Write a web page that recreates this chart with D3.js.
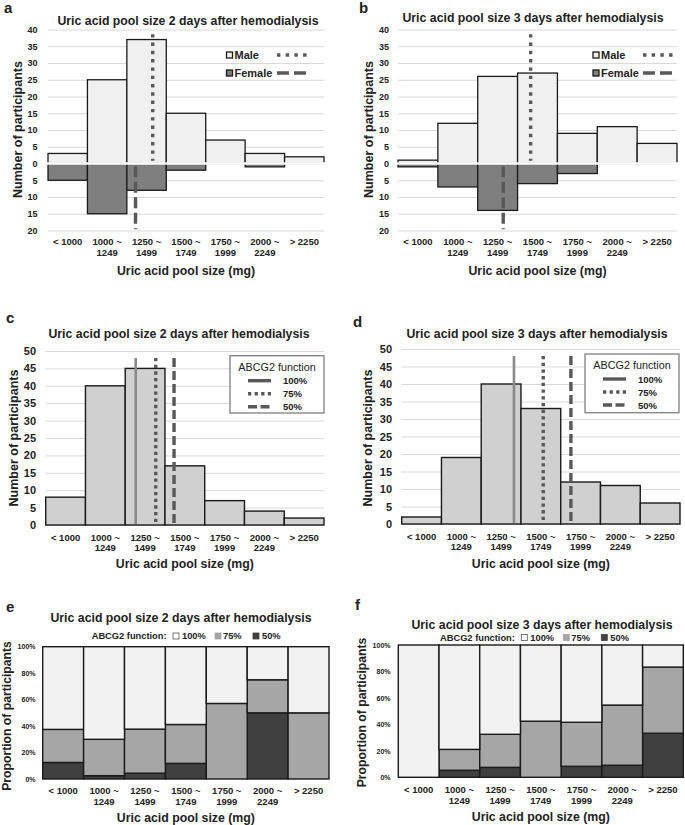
<!DOCTYPE html>
<html><head><meta charset="utf-8">
<script src="https://cdn.jsdelivr.net/npm/d3@7/dist/d3.min.js"></script>
<style>body{margin:0;background:#fff;} svg text{font-family:"Liberation Sans",Arial,sans-serif;}</style>
</head><body><svg id="chart" width="685" height="825"></svg>
<script>
// ---------------- DATA ----------------
const categories = [["< 1000"],["1000 ~","1249"],["1250 ~","1499"],["1500 ~","1749"],["1750 ~","1999"],["2000 ~","2249"],["> 2250"]];
const binEdgesMg = [750, 2500];               // range the bins span (for marker lines)
const maleDay2   = [3, 25, 37, 15, 7, 3, 2];
const femaleDay2 = [5, 15, 8, 2, 0, 1, 0];
const maleDay3   = [1, 12, 26, 27, 9, 11, 6];
const femaleDay3 = [1, 7, 14, 6, 3, 0, 0];
const sexLabels = ["Male", "Female"];
const sexMarkersDay2 = [1414, 1305];          // mg : male, female
const sexMarkersDay3 = [1582, 1410];
const totalDay2 = [8, 40, 45, 17, 7, 4, 2];
const totalDay3 = [2, 19, 40, 33, 12, 11, 6];
const abcgLevels = ["100%", "75%", "50%"];
const abcgMarkersDay2 = [1316, 1442, 1557];   // mg : 100%, 75%, 50%
const abcgMarkersDay3 = [1456, 1640, 1814];
const prop50Day2  = [12.5, 2.5, 4.4, 11.8, 0, 50, 0];
const prop75Day2  = [25, 27.5, 33.3, 29.4, 57.1, 25, 50];
const prop100Day2 = [62.5, 70, 62.3, 58.8, 42.9, 25, 50];
const prop50Day3  = [0, 5.3, 7.5, 0, 8.3, 9.1, 33.3];
const prop75Day3  = [0, 15.8, 25, 42.4, 33.3, 45.5, 50];
const prop100Day3 = [100, 78.9, 67.5, 57.6, 58.4, 45.4, 16.7];
const yTicksSex = [-20, -15, -10, -5, 0, 5, 10, 15, 20, 25, 30, 35, 40];
const yTicksCount = [0, 5, 10, 15, 20, 25, 30, 35, 40, 45, 50];
const yTicksPct = [0, 20, 40, 60, 80, 100];
const titleDay2 = "Uric acid pool size 2 days after hemodialysis";
const titleDay3 = "Uric acid pool size 3 days after hemodialysis";
const xTitle = "Uric acid pool size (mg)";

// ---------------- HELPERS ----------------
const svg = d3.select("#chart");
const INK = "#1a1a1a", TXT = "#222";
const C_MALE = "#f0f0f0", C_FEMALE = "#7f7f7f", C_TOTAL = "#d0d0d0";
const C_100 = "#f2f2f2", C_75 = "#a6a6a6", C_50 = "#404040";
const C_LINE = "#595959", C_SOLID = "#8a8a8a", GRID = "#d9d9d9";

function text(g, x, y, s, o = {}) {
  return g.append("text").attr("x", x).attr("y", y)
    .attr("text-anchor", o.anchor || "middle")
    .attr("font-size", o.size || 12)
    .attr("font-weight", o.weight || "bold")
    .attr("fill", o.fill || TXT)
    .attr("transform", o.rotate ? `rotate(-90,${x},${y})` : null)
    .text(s);
}

function xAxis(g, x, yBase, size, lineH) {
  const ax = g.append("g").attr("transform", `translate(0,${yBase})`)
    .call(d3.axisBottom(x).tickSize(0).tickPadding(0).tickFormat(i => categories[i][0]));
  ax.select(".domain").remove();
  ax.selectAll("text").each(function(i) {
    const t = d3.select(this).attr("font-size", size).attr("font-weight", "bold")
      .attr("fill", TXT).attr("font-family", '"Liberation Sans",Arial,sans-serif').attr("dy", 0).attr("y", 0);
    t.text(null);
    categories[i].forEach((s, j) => t.append("tspan").attr("x", 0).attr("dy", j === 0 ? 0 : lineH).text(s));
  });
}

function yAxis(g, y, L, R, ticks, labelRight, size, fmt, grid) {
  const ax = g.append("g").attr("transform", `translate(${L},0)`)
    .call(d3.axisLeft(y).tickValues(ticks).tickSize(grid ? -(R - L) : 0)
      .tickPadding(L - labelRight).tickFormat(fmt));
  ax.select(".domain").remove();
  ax.selectAll("line").attr("stroke", GRID).attr("stroke-width", 1);
  ax.selectAll("text").attr("font-size", size).attr("font-weight", "bold").attr("fill", TXT)
    .attr("font-family", '"Liberation Sans",Arial,sans-serif');
}

const dotted = { w: 3.4, dash: "3.4,4.9" };
const dashed = { w: 3.4, dash: "11,4.5" };

// ---------------- SEX PANELS (a, b) ----------------
function sexPanel(c) {
  const g = svg.append("g");
  const x = d3.scaleBand().domain(d3.range(categories.length)).range([c.L, c.R]).padding(0);
  const xm = d3.scaleLinear().domain(binEdgesMg).range([c.L, c.R]);
  const y = d3.scaleLinear().domain([-20, 40]).range([230.5, 29.5]);
  yAxis(g, y, c.L, c.R, yTicksSex, c.labelRight, 9, d => Math.abs(d), true);
  g.selectAll(".m").data(c.male).join("rect")
    .attr("x", (d, i) => x(i)).attr("width", x.bandwidth())
    .attr("y", d => y(d)).attr("height", d => y(0) - y(d))
    .attr("fill", C_MALE).attr("stroke", INK).attr("stroke-width", 1.3);
  g.selectAll(".f").data(c.female).join("rect")
    .attr("x", (d, i) => x(i)).attr("width", x.bandwidth())
    .attr("y", y(0)).attr("height", d => y(-d) - y(0))
    .attr("display", d => d > 0 ? null : "none")
    .attr("fill", C_FEMALE).attr("stroke", INK).attr("stroke-width", 1.3);
  g.append("line").attr("x1", c.L - 4).attr("x2", c.R + 2).attr("y1", y(0)).attr("y2", y(0))
    .attr("stroke", "#fff").attr("stroke-width", 2.6);
  // marker lines
  g.append("line").attr("x1", xm(c.markers[0])).attr("x2", xm(c.markers[0]))
    .attr("y1", y(38.6)).attr("y2", y(0.8))
    .attr("stroke", C_LINE).attr("stroke-width", dotted.w).attr("stroke-dasharray", dotted.dash);
  g.append("line").attr("x1", xm(c.markers[1])).attr("x2", xm(c.markers[1]))
    .attr("y1", y(-0.8)).attr("y2", y(-19.6))
    .attr("stroke", C_LINE).attr("stroke-width", dashed.w).attr("stroke-dasharray", dashed.dash);
  // legend
  const lg = [{ fill: C_MALE, st: dotted, yy: 55 }, { fill: C_FEMALE, st: dashed, yy: 73 }];
  lg.forEach((d, i) => {
    g.append("rect").attr("x", c.legX).attr("y", d.yy - 3).attr("width", 6).attr("height", 6)
      .attr("fill", d.fill).attr("stroke", INK).attr("stroke-width", 1.3);
    text(g, c.legX + 8, d.yy + 4, sexLabels[i], { anchor: "start", size: 11 });
    g.append("line").attr("x1", c.sampX).attr("x2", c.sampX + 33).attr("y1", d.yy).attr("y2", d.yy)
      .attr("stroke", C_LINE).attr("stroke-width", d.st.w).attr("stroke-dasharray", i === 0 ? "3.4,5.3" : "12,5");
  });
  xAxis(g, x, 244.5, 9.5, 11.5);
  text(g, (c.L + c.R) / 2, 274.5, xTitle, { size: 12.3 });
  text(g, c.yTitleX, 129.5, "Number of participants", { size: 12.5, rotate: true });
  text(g, c.titleX, c.titleY, c.title, { size: 12.3 });
  text(g, c.letterX, 13, c.letter, { anchor: "start", size: 15 });
}

sexPanel({ L: 48, R: 324, labelRight: 37.5, male: maleDay2, female: femaleDay2, markers: sexMarkersDay2,
  legX: 226.5, sampX: 277, yTitleX: 21.5, titleX: 188, titleY: 24.5, title: titleDay2, letter: "a", letterX: 4 });
sexPanel({ L: 398, R: 677, labelRight: 389, male: maleDay3, female: femaleDay3, markers: sexMarkersDay3,
  legX: 593, sampX: 643, yTitleX: 372.5, titleX: 533, titleY: 21.5, title: titleDay3, letter: "b", letterX: 359 });

// ---------------- ABCG2 COUNT PANELS (c, d) ----------------
function countPanel(c) {
  const g = svg.append("g");
  const x = d3.scaleBand().domain(d3.range(categories.length)).range([c.L, c.R]).padding(0);
  const xm = d3.scaleLinear().domain(binEdgesMg).range([c.L, c.R]);
  const y = d3.scaleLinear().domain([0, 50]).range([c.y0, c.y50]);
  yAxis(g, y, c.L, c.R, yTicksCount, c.labelRight, 11, d => d, true);
  g.selectAll(".b").data(c.total).join("rect")
    .attr("x", (d, i) => x(i)).attr("width", x.bandwidth())
    .attr("y", d => y(d)).attr("height", d => y(0) - y(d))
    .attr("fill", C_TOTAL).attr("stroke", INK).attr("stroke-width", 1.4);
  const styles = [{ col: C_SOLID, w: 2.6, dash: null }, { col: C_LINE, w: 3.4, dash: "3.3,3.4" }, { col: C_LINE, w: 3.4, dash: "9,4" }];
  c.markers.forEach((m, i) => {
    g.append("line").attr("x1", xm(m)).attr("x2", xm(m)).attr("y1", y(48)).attr("y2", y(0) - 1)
      .attr("stroke", styles[i].col).attr("stroke-width", styles[i].w).attr("stroke-dasharray", styles[i].dash);
  });
  // legend box
  const b = c.box;
  g.append("rect").attr("x", b[0]).attr("y", b[1]).attr("width", b[2]).attr("height", b[3])
    .attr("fill", "#fff").attr("stroke", "#808080").attr("stroke-width", 1.3);
  text(g, b[0] + b[2] / 2, b[1] + 15, "ABCG2 function", { size: 10.8, weight: "normal" });
  const sampleDash = [null, "3.3,3.3", "9,3.5"];
  abcgLevels.forEach((s, i) => {
    const yy = b[1] + 25 + i * 13;
    g.append("line").attr("x1", b[0] + 18).attr("x2", b[0] + 41).attr("y1", yy).attr("y2", yy)
      .attr("stroke", C_LINE).attr("stroke-width", 3.4).attr("stroke-dasharray", sampleDash[i]);
    text(g, b[0] + 53, yy + 3.5, s, { anchor: "start", size: 9.5 });
  });
  xAxis(g, x, c.y0 + 15.5, 9.5, 10.5);
  text(g, (c.L + c.R) / 2, 568, xTitle, { size: 12.3 });
  text(g, c.yTitleX, 438, "Number of participants", { size: 12.5, rotate: true });
  text(g, c.titleX, 337.5, c.title, { size: 12.3 });
  text(g, c.letterX, c.letterY, c.letter, { anchor: "start", size: 15 });
}

countPanel({ L: 45.7, R: 324, y0: 525, y50: 351, labelRight: 36, total: totalDay2, markers: abcgMarkersDay2,
  box: [230, 355.7, 94, 57.3], yTitleX: 17.5, titleX: 179, title: titleDay2, letter: "c", letterX: 6, letterY: 323 });
countPanel({ L: 401.7, R: 680, y0: 524, y50: 349, labelRight: 392, total: totalDay3, markers: abcgMarkersDay3,
  box: [585, 354, 94, 58.7], yTitleX: 371.5, titleX: 537, title: titleDay3, letter: "d", letterX: 353, letterY: 327 });

// ---------------- PROPORTION PANELS (e, f) ----------------
function propPanel(c) {
  const g = svg.append("g");
  const x = d3.scaleBand().domain(d3.range(categories.length)).range([c.L, c.R]).padding(0);
  const y = d3.scaleLinear().domain([0, 100]).range([c.y0, c.y100]);
  yAxis(g, y, c.L, c.R, yTicksPct, c.labelRight, 7, d => d + "%", false);
  const rows = categories.map((_, i) => ({ i, p50: c.p50[i], p75: c.p75[i], p100: c.p100[i] }));
  const stack = d3.stack().keys(["p50", "p75", "p100"])(rows);
  const fills = [C_50, C_75, C_100];
  stack.forEach((layer, k) => {
    g.selectAll(null).data(layer).join("rect")
      .attr("x", d => x(d.data.i)).attr("width", x.bandwidth())
      .attr("y", d => y(d[1])).attr("height", d => y(d[0]) - y(d[1]))
      .attr("display", d => d[1] - d[0] > 0 ? null : "none")
      .attr("fill", fills[k]).attr("stroke", INK).attr("stroke-width", 1.4);
  });
  // legend
  const lx = c.legX, ly = c.legY;
  text(g, lx, ly + 3.3, "ABCG2 function:", { anchor: "start", size: 9.3 });
  const items = [{ f: "#fff", s: "#555", dx: 81.3, tx: 90.3 }, { f: C_75, s: C_75, dx: 123.3, tx: 131.3 }, { f: C_50, s: C_50, dx: 161.3, tx: 170.3 }];
  items.forEach((it, i) => {
    g.append("rect").attr("x", lx + it.dx).attr("y", ly - 3).attr("width", 6).attr("height", 6)
      .attr("fill", it.f).attr("stroke", it.s).attr("stroke-width", 0.8);
    text(g, lx + it.tx, ly + 3.3, abcgLevels[i], { anchor: "start", size: 9.3 });
  });
  xAxis(g, x, c.xLabY, 9.5, 11);
  text(g, (c.L + c.R) / 2, c.xTitleY, xTitle, { size: 12.3 });
  text(g, c.yTitleX, c.yTitleY, "Proportion of participants", { size: 12.2, rotate: true });
  text(g, c.titleX, c.titleY, c.title, { size: 12.3 });
  text(g, c.letterX, c.letterY, c.letter, { anchor: "start", size: 15 });
}

propPanel({ L: 42.7, R: 329, y0: 779, y100: 646.7, labelRight: 35.5, p50: prop50Day2, p75: prop75Day2, p100: prop100Day2,
  legX: 91.7, legY: 636, xLabY: 793.5, xTitleY: 822, yTitleX: 11, yTitleY: 716, titleX: 181, titleY: 621.5, title: titleDay2,
  letter: "e", letterX: 6, letterY: 612 });
propPanel({ L: 398.3, R: 683.3, y0: 777.3, y100: 645, labelRight: 390.5, p50: prop50Day3, p75: prop75Day3, p100: prop100Day3,
  legX: 440, legY: 637.5, xLabY: 792.5, xTitleY: 821, yTitleX: 366, yTitleY: 712.5, titleX: 542, titleY: 628.5, title: titleDay3,
  letter: "f", letterX: 355, letterY: 610 });
</script></body></html>
